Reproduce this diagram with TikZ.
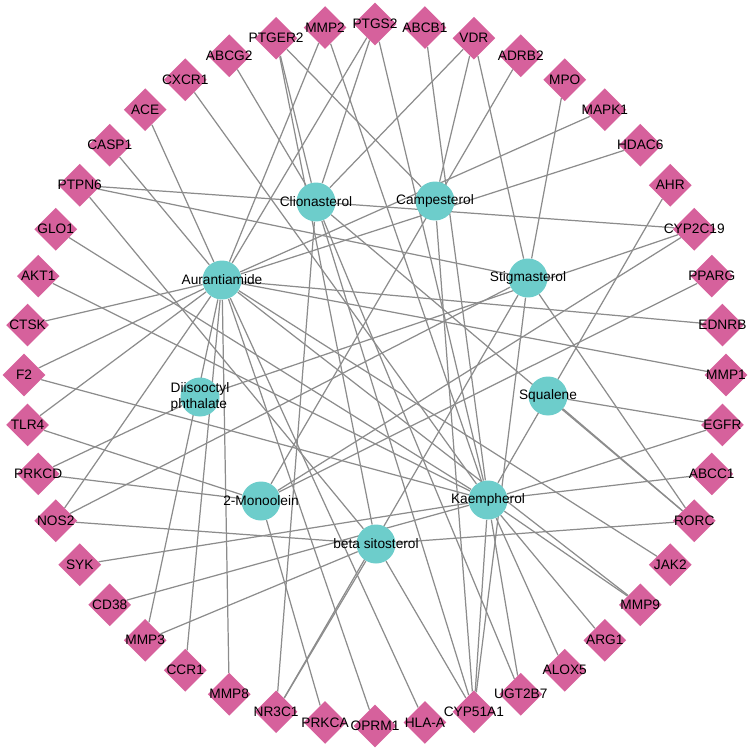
\documentclass[tikz,border=0pt]{standalone}
\usepackage{fontspec}
\setmainfont{Liberation Sans}
\usetikzlibrary{shapes.geometric, backgrounds, calc}

\definecolor{targetpink}{HTML}{D6619C}
\definecolor{compoundcyan}{HTML}{6DCDCB}
\definecolor{linkgray}{HTML}{8C8C8C}

\begin{document}
\begin{tikzpicture}[
        x=0.02cm, y=-0.02cm,
        target/.style={diamond, fill=targetpink, draw=none, minimum width=0.86cm, minimum height=0.86cm, inner sep=0pt,
            label={[font=\fontsize{7.8}{8}\selectfont, inner sep=0pt]center:#1}},
        compound/.style={circle, fill=compoundcyan, draw=none, minimum size=0.78cm, inner sep=0pt,
            label={[font=\fontsize{7.8}{9.2}\selectfont, inner sep=0pt, align=left]center:#1}},
        link/.style={draw=linkgray, line width=0.7pt}
    ]
        \useasboundingbox (0,0) rectangle (750,750);

        % targets on the outer ring, clockwise from the top
        \foreach \name [count=\i from 0] in {PTGS2, ABCB1, VDR, ADRB2, MPO, MAPK1, HDAC6, AHR, CYP2C19, PPARG, EDNRB,
            MMP1, EGFR, ABCC1, RORC, JAK2, MMP9, ARG1, ALOX5, UGT2B7, CYP51A1, HLA-A,
            OPRM1, PRKCA, NR3C1, MMP8, CCR1, MMP3, CD38, SYK, NOS2, PRKCD, TLR4,
            F2, CTSK, AKT1, GLO1, PTPN6, CASP1, ACE, CXCR1, ABCG2, PTGER2, MMP2}
            \node[target=\name] (\name) at ($(375,375)+({\i*360/44-90}:351)$) {};

        % compounds
        \node[compound=Clionasterol] (cli) at (316,202) {};
        \node[compound=Campesterol] (cam) at (435,201) {};
        \node[compound=Aurantiamide] (aur) at (222,280) {};
        \node[compound=Stigmasterol] (sti) at (528,278) {};
        \node[compound={Diisooctyl\\phthalate}] (dii) at (200,397) {};
        \node[compound=Squalene] (squ) at (548,396) {};
        \node[compound=2-Monoolein] (mon) at (261,501) {};
        \node[compound=Kaempherol] (kae) at (488,500) {};
        \node[compound=beta sitosterol] (bet) at (376,544) {};

        \begin{scope}[on background layer]
            \foreach \t in {ACE, CASP1, CTSK, F2, TLR4, NOS2, MMP3, CCR1, MMP8, OPRM1, HLA-A, MAPK1, HDAC6, MMP1, EDNRB, MMP9, PTGS2, MMP2, JAK2}
                \draw[link] (aur) -- (\t);
            \foreach \t in {ABCG2, PTGER2, PTGS2, VDR, PTPN6, CYP2C19, NR3C1, CYP51A1, UGT2B7, RORC}
                \draw[link] (cli) -- (\t);
            \foreach \t in {PTGER2, VDR, CYP51A1}
                \draw[link] (cam) -- (\t);
            \foreach \t in {PTPN6, NOS2, MPO, VDR, NR3C1, CYP51A1, RORC}
                \draw[link] (sti) -- (\t);
            \foreach \t in {PTPN6, NOS2, MMP3, NR3C1, CYP51A1, RORC, PTGER2}
                \draw[link] (bet) -- (\t);
            \foreach \t in {EGFR, RORC}
                \draw[link] (squ) -- (\t);
            \foreach \t in {PRKCD, PRKCA, PPARG, TLR4, ADRB2, CYP2C19}
                \draw[link] (mon) -- (\t);
            \foreach \t in {PRKCD, CYP2C19}
                \draw[link] (dii) -- (\t);
            \foreach \t in {CXCR1, GLO1, AKT1, F2, SYK, CD38, MMP2, AHR, ABCC1, EGFR, MMP9, ARG1, ALOX5, UGT2B7, CYP51A1, PTGS2, ABCB1}
                \draw[link] (kae) -- (\t);
        \end{scope}
    \end{tikzpicture}
\end{document}
